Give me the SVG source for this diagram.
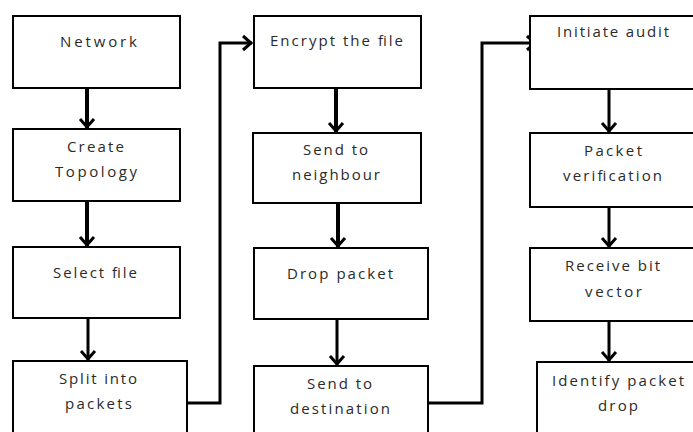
<svg xmlns="http://www.w3.org/2000/svg" width="693" height="432" viewBox="0 0 693 432">
<style>
.box{fill:#fff;stroke:#000;stroke-width:2}
.t{font-family:"Open Sans","Liberation Sans",sans-serif;font-size:15px;fill:#2a2a2a;text-anchor:middle}
.c{fill:none;stroke:#000;stroke-linejoin:miter}
.w4{stroke-width:4}
.w3{stroke-width:3}
</style>
<defs>
<marker id="ah" markerUnits="userSpaceOnUse" viewBox="-12 -10 14 20" refX="0" refY="0" markerWidth="14" markerHeight="20" orient="auto" overflow="visible">
<path d="M-9,-7 L-1,0 L-9,7" fill="none" stroke="#000" stroke-width="3"/>
</marker>
</defs>
<rect width="693" height="432" fill="#fff"/>
<g id="connectors">
<line class="c w4" x1="87" y1="88" x2="87" y2="128" marker-end="url(#ah)"/>
<line class="c w4" x1="87" y1="201" x2="87" y2="246" marker-end="url(#ah)"/>
<line class="c w3" x1="88" y1="318" x2="88" y2="360" marker-end="url(#ah)"/>
<line class="c w4" x1="336" y1="88" x2="336" y2="132" marker-end="url(#ah)"/>
<line class="c w4" x1="338" y1="203" x2="338" y2="247" marker-end="url(#ah)"/>
<line class="c w3" x1="337" y1="319" x2="337" y2="365" marker-end="url(#ah)"/>
<line class="c w3" x1="609" y1="89" x2="609" y2="132" marker-end="url(#ah)"/>
<line class="c w3" x1="609" y1="207" x2="609" y2="247" marker-end="url(#ah)"/>
<line class="c w3" x1="609" y1="321" x2="609" y2="361" marker-end="url(#ah)"/>
<polyline class="c w3" points="187,403 220,403 220,43 252,43" marker-end="url(#ah)"/>
<polyline class="c w3" points="428,403 482,403 482,43 536,43" marker-end="url(#ah)"/>
</g>
<g id="network"><rect class="box" x="13" y="16" width="167" height="72"/><text class="t" x="98.5" y="47" textLength="77">Network</text></g>
<g id="create-topology"><rect class="box" x="13" y="129" width="167" height="72"/><text class="t" x="95.5" y="152" textLength="57">Create</text><text class="t" x="96" y="177" textLength="82">Topology</text></g>
<g id="select-file"><rect class="box" x="13" y="247" width="167" height="71"/><text class="t" x="95" y="278" textLength="84">Select file</text></g>
<g id="split-into-packets"><rect class="box" x="13" y="361" width="174" height="80"/><text class="t" x="98" y="384" textLength="78">Split into</text><text class="t" x="98.5" y="409" textLength="67">packets</text></g>
<g id="encrypt-file"><rect class="box" x="254" y="16" width="167" height="72"/><text class="t" x="336.5" y="46" textLength="133">Encrypt the file</text></g>
<g id="send-neighbour"><rect class="box" x="253" y="133" width="168" height="70"/><text class="t" x="335.5" y="155" textLength="65">Send to</text><text class="t" x="336" y="180" textLength="88">neighbour</text></g>
<g id="drop-packet"><rect class="box" x="254" y="248" width="174" height="71"/><text class="t" x="340" y="279" textLength="106">Drop packet</text></g>
<g id="send-destination"><rect class="box" x="254" y="366" width="174" height="80"/><text class="t" x="339.5" y="389" textLength="65">Send to</text><text class="t" x="340" y="414" textLength="100">destination</text></g>
<g id="initiate-audit"><rect class="box" x="530" y="16" width="170" height="73"/><text class="t" x="613" y="37" textLength="112">Initiate audit</text></g>
<g id="packet-verification"><rect class="box" x="530" y="133" width="170" height="74"/><text class="t" x="613" y="156" textLength="58">Packet</text><text class="t" x="612.5" y="181" textLength="99">verification</text></g>
<g id="receive-bit-vector"><rect class="box" x="530" y="248" width="170" height="73"/><text class="t" x="612.5" y="271" textLength="95">Receive bit</text><text class="t" x="613.5" y="297" textLength="57">vector</text></g>
<g id="identify-packet-drop"><rect class="box" x="537" y="362" width="170" height="80"/><text class="t" x="618" y="386" textLength="132">Identify packet</text><text class="t" x="618" y="411" textLength="40">drop</text></g>
</svg>
